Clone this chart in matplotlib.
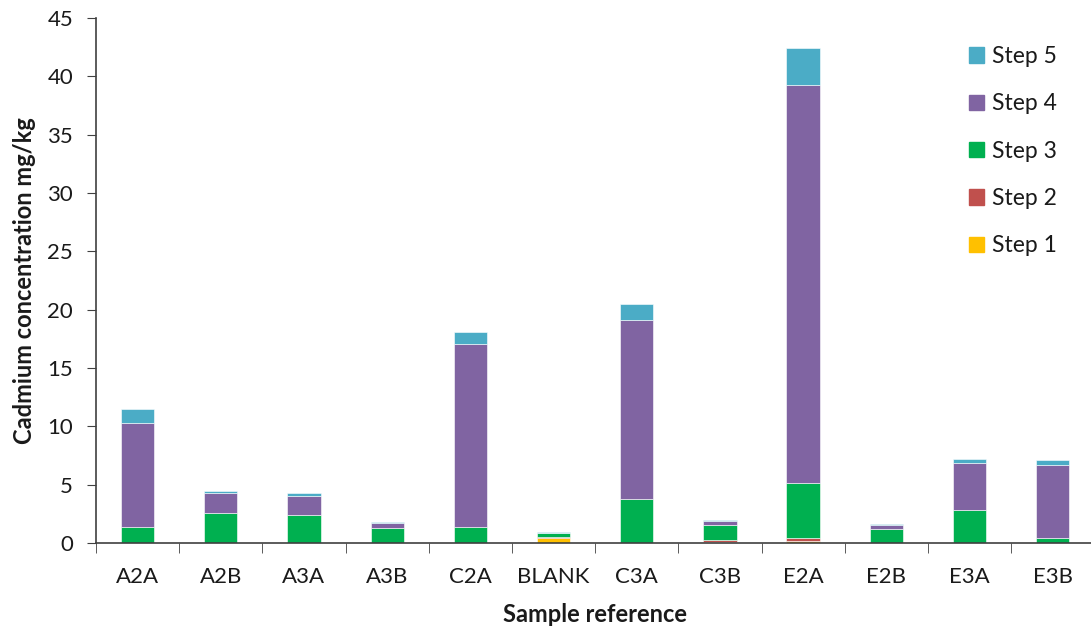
import numpy as np
import matplotlib.pyplot as plt
from matplotlib.patches import Patch

samples = ["A2A", "A2B", "A3A", "A3B", "C2A", "BLANK", "C3A", "C3B", "E2A", "E2B", "E3A", "E3B"]
step1 = [0.0, 0.0, 0.0, 0.0, 0.0, 0.45, 0.0, 0.10, 0.15, 0.0, 0.0, 0.0]
step2 = [0.0, 0.0, 0.0, 0.0, 0.0, 0.09, 0.0, 0.15, 0.30, 0.0, 0.0, 0.0]
step3 = [1.40, 2.60, 2.37, 1.31, 1.40, 0.34, 3.74, 1.26, 4.67, 1.17, 2.86, 0.45]
step4 = [8.90, 1.66, 1.68, 0.38, 15.65, 0.0, 15.36, 0.35, 34.18, 0.34, 4.02, 6.23]
step5 = [1.20, 0.22, 0.21, 0.08, 1.05, 0.09, 1.40, 0.11, 3.12, 0.12, 0.34, 0.43]

steps = [step1, step2, step3, step4, step5]
labels = ["Step 1", "Step 2", "Step 3", "Step 4", "Step 5"]
colors = ["#FFC000", "#C0504D", "#00B050", "#8064A2", "#4BACC6"]

plt.rcParams["font.family"] = ["Lato", "DejaVu Sans"]
text_col = "#1a1a1a"

fig = plt.figure(figsize=(10.91, 6.33), dpi=100)
ax = fig.add_axes([0.088, 0.142, 0.915, 0.8295])

x = np.arange(len(samples))
bottom = np.zeros(len(samples))
for vals, lab, col in zip(steps, labels, colors):
    ax.bar(x, vals, 0.4, bottom=bottom, color=col, label=lab,
           edgecolor="white", linewidth=0.4)
    bottom += np.array(vals)

ax.set_xlim(-0.5, 11.44)
ax.set_ylim(0, 45)
ax.set_yticks(np.arange(0, 46, 5))
ax.set_xticks(x)
ax.set_xticklabels(samples)
ax.set_xticks(np.arange(-0.5, 12, 1), minor=True)
ax.tick_params(axis="x", which="major", length=0, pad=17, labelsize=16, labelcolor=text_col)
ax.tick_params(axis="x", which="minor", length=7, direction="out", color="#404040")
ax.tick_params(axis="y", length=6.5, direction="out", labelsize=16, color="#404040",
               labelcolor=text_col, pad=10)

for side in ["top", "right"]:
    ax.spines[side].set_visible(False)
for side in ["left", "bottom"]:
    ax.spines[side].set_color("#404040")
    ax.spines[side].set_linewidth(1.2)

ax.set_xlabel("Sample reference", fontsize=17, fontweight="bold", labelpad=12, color=text_col)
ax.set_ylabel("Cadmium concentration mg/kg", fontsize=17, fontweight="bold", labelpad=8, color=text_col)

handles = [Patch(color=c, label=l) for c, l in zip(colors, labels)][::-1]
ax.legend(handles=handles, loc="upper left", bbox_to_anchor=(0.869, 0.960),
          bbox_transform=fig.transFigure, frameon=False, fontsize=16.5,
          labelspacing=1.15, handlelength=0.65, handleheight=0.65, handletextpad=0.35,
          labelcolor=text_col)

fig.savefig("out.png", dpi=100)
